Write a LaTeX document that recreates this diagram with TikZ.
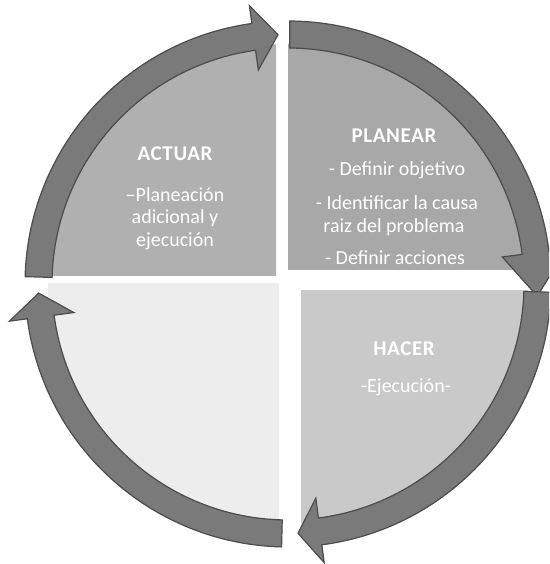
\documentclass[tikz,border=0pt]{standalone}
\usepackage{fontspec}
\setmainfont{Carlito}
\newfontfamily\headfont[LetterSpace=3]{Carlito}
\begin{document}
\begin{tikzpicture}[x=1pt,y=1pt,
  ringarrow/.style={fill=black!52, draw=black!70, line width=1.2pt, line join=miter},
  headtxt/.style={anchor=base, text=white, font=\headfont\bfseries\fontsize{21}{21}\selectfont, inner sep=0pt},
  bodytxt/.style={anchor=base, text=white, font=\fontsize{20}{20}\selectfont, inner sep=0pt}]
\useasboundingbox (0,0) rectangle (549,564);
\clip (0,0) rectangle (549,564);
\coordinate (C) at (288,280);
% quadrants
\begin{scope}
  \clip (0,288) rectangle (276,564);
  \fill[black!31] (C) circle[radius=240pt];
\end{scope}
\begin{scope}
  \clip (288,294) rectangle (560,564);
  \fill[black!34] (C) circle[radius=240pt];
\end{scope}
\begin{scope}
  \clip (301,0) rectangle (560,273);
  \fill[black!21] (C) circle[radius=240pt];
\end{scope}
\begin{scope}
  \clip (0,0) rectangle (279,280);
  \fill[black!7] (C) circle[radius=240pt];
\end{scope}
% ring arrows (clockwise)
\begin{scope}[shift={(C)}]
  % top-left
  \draw[ringarrow] (178.4:263pt) arc[start angle=178.4, end angle=97.9, radius=263pt]
    -- (97.9:281pt) -- (92.3:249.5pt) -- (97.9:216pt) -- (97.9:236pt)
    arc[start angle=97.9, end angle=178.4, radius=236pt] -- cycle;
  % top-right
  \draw[ringarrow] (89.6:263pt) arc[start angle=89.6, end angle=7.2, radius=263pt]
    -- (7.2:281pt) -- (-2.8:249.5pt) -- (7.2:216pt) -- (7.2:236pt)
    arc[start angle=7.2, end angle=89.6, radius=236pt] -- cycle;
  % bottom-right
  \draw[ringarrow] (-1.8:263pt) arc[start angle=-1.8, end angle=-82.6, radius=263pt]
    -- (-82.6:281pt) -- (-87.7:249.5pt) -- (-82.6:216pt) -- (-82.6:236pt)
    arc[start angle=-82.6, end angle=-1.8, radius=236pt] -- cycle;
  % bottom-left
  \draw[ringarrow] (268.6:263pt) arc[start angle=268.6, end angle=187.6, radius=263pt]
    -- (187.6:281pt) -- (182.1:249.5pt) -- (187.6:216pt) -- (187.6:236pt)
    arc[start angle=187.6, end angle=268.6, radius=236pt] -- cycle;
\end{scope}
% ACTUAR
\node[headtxt] (a0) at (175,403) {ACTUAR};
\node[bodytxt] (a1) at (175,362) {–Planeación};
\node[bodytxt] (a2) at (175,340) {adicional y};
\node[bodytxt] (a3) at (175,317) {ejecución};
% PLANEAR
\node[headtxt] (p0) at (394,421) {PLANEAR};
\node[bodytxt] (p1) at (397,388) {- Definir objetivo};
\node[bodytxt] (p2) at (397,354) {- Identificar la causa};
\node[bodytxt] (p3) at (394,331) {raiz del problema};
\node[bodytxt] (p4) at (395,299) {- Definir acciones};
% HACER
\node[headtxt] (h0) at (404,208) {HACER};
\node[bodytxt] (h1) at (406,171) {-Ejecución-};
\end{tikzpicture}
\end{document}
